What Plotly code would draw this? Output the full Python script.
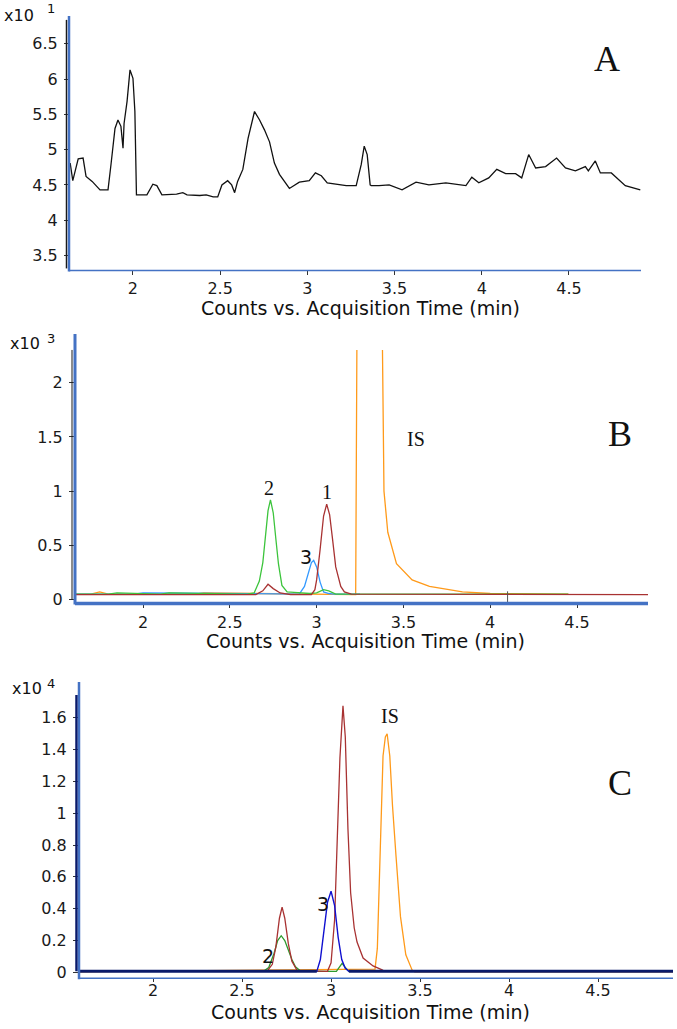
import plotly.graph_objects as go

W, H = 677, 1029

# ---------------- Panel A (x10^1 counts) ----------------
a_time = [1.64, 1.655, 1.686, 1.714, 1.731, 1.766, 1.811, 1.857, 1.874, 1.897, 1.914, 1.931, 1.943, 1.949,
          1.966, 1.983, 2.0, 2.011, 2.02, 2.04, 2.08, 2.114, 2.137, 2.166, 2.194, 2.25, 2.286, 2.31, 2.383,
          2.42, 2.46, 2.486, 2.51, 2.543, 2.566, 2.583, 2.6, 2.63, 2.66, 2.697, 2.726, 2.754, 2.783, 2.811,
          2.84, 2.897, 2.954, 3.011, 3.046, 3.08, 3.114, 3.183, 3.223, 3.28, 3.309, 3.326, 3.343, 3.36,
          3.366, 3.411, 3.469, 3.543, 3.623, 3.697, 3.794, 3.909, 3.943, 3.983, 4.04, 4.086, 4.137, 4.194,
          4.229, 4.269, 4.309, 4.366, 4.429, 4.48, 4.537, 4.594, 4.611, 4.651, 4.68, 4.743, 4.823, 4.909]
a_counts = [4.81, 4.56, 4.87, 4.88, 4.62, 4.55, 4.43, 4.43, 4.79, 5.30, 5.42, 5.33, 5.02, 5.37,
            5.68, 6.13, 6.01, 5.54, 4.36, 4.36, 4.36, 4.51, 4.49, 4.36, 4.36, 4.37, 4.39, 4.36, 4.35,
            4.36, 4.33, 4.33, 4.50, 4.56, 4.50, 4.39, 4.55, 4.72, 5.16, 5.54, 5.42, 5.28, 5.11, 4.81,
            4.65, 4.45, 4.54, 4.56, 4.67, 4.63, 4.53, 4.51, 4.49, 4.49, 4.79, 5.05, 4.93, 4.50,
            4.49, 4.49, 4.50, 4.43, 4.54, 4.50, 4.53, 4.49, 4.61, 4.53, 4.60, 4.72, 4.66, 4.66,
            4.60, 4.93, 4.74, 4.76, 4.88, 4.74, 4.70, 4.76, 4.70, 4.84, 4.67, 4.67, 4.49, 4.43]

# ---------------- Panel B (x10^3 counts) ----------------
b_green_t = [1.61, 1.80, 1.85, 2.10, 2.15, 2.60, 2.64, 2.67, 2.69, 2.705, 2.72, 2.734, 2.75, 2.765, 2.78,
             2.80, 2.83, 2.87, 2.92, 2.96, 3.00, 3.04, 3.07, 3.11, 4.45]
b_green_v = [0.05, 0.05, 0.06, 0.05, 0.06, 0.05, 0.06, 0.17, 0.34, 0.57, 0.82, 0.92, 0.80, 0.56, 0.33,
             0.13, 0.07, 0.065, 0.06, 0.055, 0.06, 0.09, 0.08, 0.05, 0.05]
b_red_t = [1.61, 2.65, 2.69, 2.72, 2.75, 2.79, 2.85, 2.97, 2.99, 3.00, 3.02, 3.04, 3.058, 3.075, 3.09,
           3.11, 3.139, 3.16, 3.20, 4.909]
b_red_v = [0.045, 0.045, 0.08, 0.14, 0.10, 0.06, 0.045, 0.045, 0.09, 0.18, 0.46, 0.77, 0.88, 0.78, 0.58,
           0.30, 0.12, 0.07, 0.05, 0.045]
b_blue_t = [1.61, 1.95, 2.0, 2.90, 2.93, 2.95, 2.97, 2.983, 3.00, 3.02, 3.04, 3.07, 3.10, 3.25]
b_blue_v = [0.05, 0.05, 0.06, 0.05, 0.12, 0.24, 0.34, 0.36, 0.30, 0.16, 0.07, 0.055, 0.05, 0.05]
b_orange_t = [1.61, 1.70, 1.75, 1.80, 2.30, 2.35, 3.225, 3.232, 3.24, 3.30, 3.372, 3.378, 3.383, 3.388,
              3.41, 3.46, 3.55, 3.65, 3.84, 4.00, 4.40, 4.45]
b_orange_v = [0.05, 0.05, 0.07, 0.05, 0.05, 0.06, 0.045, 2.5, 5.0, 6.0, 5.0, 2.5, 1.38, 1.0,
              0.62, 0.33, 0.18, 0.12, 0.07, 0.055, 0.05, 0.05]
b_cursor_t = [4.1, 4.1]
b_cursor_v = [-0.037, 0.075]

# ---------------- Panel C (x10^4 counts) ----------------
c_green_t = [1.584, 2.62, 2.65, 2.68, 2.70, 2.72, 2.74, 2.76, 2.78, 2.80, 2.83, 3.03, 3.05, 3.062, 3.08, 3.10, 4.921]
c_green_v = [0.006, 0.006, 0.03, 0.12, 0.20, 0.23, 0.20, 0.14, 0.08, 0.035, 0.006, 0.006, 0.04, 0.056, 0.03, 0.006, 0.006]
c_red_t = [2.55, 2.64, 2.67, 2.69, 2.71, 2.725, 2.74, 2.76, 2.78, 2.81, 2.98, 3.00, 3.02, 3.035, 3.05,
           3.067, 3.08, 3.095, 3.11, 3.13, 3.146, 3.18, 3.236, 3.287, 3.30]
c_red_v = [0.006, 0.006, 0.05, 0.16, 0.34, 0.41, 0.34, 0.18, 0.07, 0.01, 0.006, 0.06, 0.33, 0.79, 1.35,
           1.675, 1.48, 0.90, 0.50, 0.28, 0.19, 0.09, 0.04, 0.015, 0.006]
c_orange_t = [1.584, 3.247, 3.26, 3.275, 3.292, 3.305, 3.315, 3.33, 3.345, 3.365, 3.39, 3.42, 3.455, 3.47, 4.921]
c_orange_v = [0.003, 0.02, 0.15, 0.73, 1.36, 1.48, 1.50, 1.36, 1.05, 0.73, 0.35, 0.11, 0.015, 0.003, 0.003]
c_blue_t = [1.584, 2.92, 2.94, 2.96, 2.98, 3.00, 3.02, 3.04, 3.06, 3.08, 3.10, 4.921]
c_blue_v = [0.006, 0.006, 0.08, 0.25, 0.44, 0.51, 0.42, 0.22, 0.08, 0.025, 0.006, 0.006]

x_tick_vals = [2, 2.5, 3, 3.5, 4, 4.5]
x_tick_text = ["2", "2.5", "3", "3.5", "4", "4.5"]
a_ytick_vals = [3.5, 4, 4.5, 5, 5.5, 6, 6.5]
a_ytick_text = ["3.5", "4", "4.5", "5", "5.5", "6", "6.5"]
b_ytick_vals = [0, 0.5, 1, 1.5, 2]
b_ytick_text = ["0", "0.5", "1", "1.5", "2"]
c_ytick_vals = [0, 0.2, 0.4, 0.6, 0.8, 1, 1.2, 1.4, 1.6]
c_ytick_text = ["0", "0.2", "0.4", "0.6", "0.8", "1", "1.2", "1.4", "1.6"]
x_title = "Counts vs. Acquisition Time (min)"

# ---------------- styling ----------------
def PX(p):
    return p / W

def PY(p):
    return 1 - p / H

AXBLUE = "#4472C4"
SANS = "DejaVu Sans, Liberation Sans, Arial, sans-serif"
SERIF = "Liberation Serif, Times New Roman, serif"
RED = "#A83232"
ORANGE = "#FF9A1A"

fig = go.Figure()

def add(x, y, color, xa, ya, width=1.3):
    fig.add_trace(go.Scatter(x=x, y=y, mode="lines", line=dict(color=color, width=width),
                             xaxis=xa, yaxis=ya, showlegend=False, hoverinfo="skip"))

add(a_time, a_counts, "#111111", "x", "y", 1.3)

add(b_orange_t, b_orange_v, ORANGE, "x2", "y2")
add(b_blue_t, b_blue_v, "#3399FF", "x2", "y2")
add(b_green_t, b_green_v, "#3CC43C", "x2", "y2")
add(b_red_t, b_red_v, RED, "x2", "y2")
add(b_cursor_t, b_cursor_v, "#555555", "x2", "y2", 1)

add(c_orange_t, c_orange_v, ORANGE, "x3", "y3")
add(c_green_t, c_green_v, "#2E9A2E", "x3", "y3")
add(c_red_t, c_red_v, RED, "x3", "y3")
add(c_blue_t, c_blue_v, "#1010D0", "x3", "y3", 1.4)
# thick dark baseline drawn from blue trace's baseline points
add([c_blue_t[0], c_blue_t[1]], [c_blue_v[0], c_blue_v[1]], "#0A1A6A", "x3", "y3", 3)
add([c_blue_t[-2], c_blue_t[-1]], [c_blue_v[-2], c_blue_v[-1]], "#0A1A6A", "x3", "y3", 3)

panels = {
    "A": dict(x=(70, 641), y=(20, 272), xr=[1.639, 4.913], yr=[3.289, 6.838],
              yt=(a_ytick_vals, a_ytick_text), tl=4, so=-1),
    "B": dict(x=(75, 648), y=(352, 607), xr=[1.608, 4.909], yr=[-0.037, 2.303],
              yt=(b_ytick_vals, b_ytick_text), tl=4, so=0),
    "C": dict(x=(79, 673), y=(699, 984), xr=[1.584, 4.921], yr=[-0.0375, 1.744],
              yt=(c_ytick_vals, c_ytick_text), tl=3, so=-5),
}

tickfont = dict(family=SANS, size=16, color="#1a1a1a")
layout = dict(width=W, height=H, margin=dict(l=0, r=0, t=0, b=0),
              paper_bgcolor="white", plot_bgcolor="white", showlegend=False)
for i, (k, p) in enumerate(panels.items()):
    sfx = "" if i == 0 else str(i + 1)
    layout["xaxis" + sfx] = dict(domain=[PX(p["x"][0]), PX(p["x"][1])], range=p["xr"],
                                 anchor="y" + sfx, tickvals=x_tick_vals, ticktext=x_tick_text,
                                 ticks="outside", ticklen=p["tl"], tickcolor="#333", tickwidth=1,
                                 showline=False, showgrid=False, zeroline=False, tickfont=tickfont,
                                 ticklabelstandoff=p["so"])
    layout["yaxis" + sfx] = dict(domain=[PY(p["y"][1]), PY(p["y"][0])], range=p["yr"],
                                 anchor="x" + sfx, tickvals=p["yt"][0], ticktext=p["yt"][1],
                                 ticks="outside", ticklen=5, tickcolor="#333", tickwidth=1,
                                 showline=False, showgrid=False, zeroline=False, tickfont=tickfont,
                                 ticklabelstandoff=3)
fig.update_layout(**layout)

# axis lines (blue frames + inner black lines)
def line(x0, y0, x1, y1, color, w):
    fig.add_shape(type="line", xref="paper", yref="paper", x0=PX(x0), x1=PX(x1), y0=PY(y0), y1=PY(y1),
                  line=dict(color=color, width=w), layer="above")

# Panel A
line(66.5, 20, 66.5, 270, "#1a1a1a", 1.5)
line(69, 16, 69, 273, AXBLUE, 2.5)
line(69, 272, 641, 272, AXBLUE, 1.5)
# Panel B
line(72, 352, 72, 603, "#1a1a1a", 1)
line(75, 336, 75, 608, AXBLUE, 3)
line(75, 607, 648, 607, AXBLUE, 3.5)
# Panel C
line(76.5, 699, 76.5, 977, "#0A1A6A", 2.5)
line(79, 686, 79, 985, AXBLUE, 2.5)
line(79, 984, 673, 984, AXBLUE, 1.5)

ann = []
def txt(x, y, s, size, family=SANS, ref="paper", xa="x", ya="y", xanchor="center"):
    if ref == "paper":
        ann.append(dict(x=PX(x), y=PY(y), xref="paper", yref="paper", text=s, showarrow=False,
                        font=dict(family=family, size=size, color="#111"), xanchor=xanchor, yanchor="middle"))
    else:
        ann.append(dict(x=x, y=y, xref=xa, yref=ya, text=s, showarrow=False,
                        font=dict(family=family, size=size, color="#111"), xanchor=xanchor, yanchor="middle"))

# axis titles
txt(360, 310, x_title, 19)
txt(365, 645, x_title, 19)
txt(370, 1018, x_title, 19)

# multipliers
txt(2, 16, "x10", 16, xanchor="left")
txt(51, 9, "1", 13)
txt(8, 346, "x10", 16, xanchor="left")
txt(51, 340, "3", 13)
txt(10, 693, "x10", 16, xanchor="left")
txt(51, 688, "4", 13)

# panel letters
txt(607, 59, "A", 36, SERIF)
txt(620, 437, "B", 36, SERIF)
txt(620, 788, "C", 36, SERIF)

# peak labels (data coordinates)
txt(2.723, 1.03, "2", 20, SERIF, ref="data", xa="x2", ya="y2")
txt(3.058, 0.99, "1", 20, SERIF, ref="data", xa="x2", ya="y2")
txt(2.936, 0.39, "3", 19, SANS, ref="data", xa="x2", ya="y2")
txt(3.572, 1.48, "IS", 20, SERIF, ref="data", xa="x2", ya="y2")

txt(3.067, 1.75, "1", 20, SERIF, ref="data", xa="x3", ya="y3")
txt(3.33, 1.61, "IS", 20, SERIF, ref="data", xa="x3", ya="y3")
txt(2.955, 0.43, "3", 19, SANS, ref="data", xa="x3", ya="y3")
txt(2.647, 0.10, "2", 19, SANS, ref="data", xa="x3", ya="y3")

fig.update_layout(annotations=ann)
fig.write_html("out.html", config={"displayModeBar": False},
               post_script="document.body.style.margin='0px';document.body.style.overflow='hidden';")
